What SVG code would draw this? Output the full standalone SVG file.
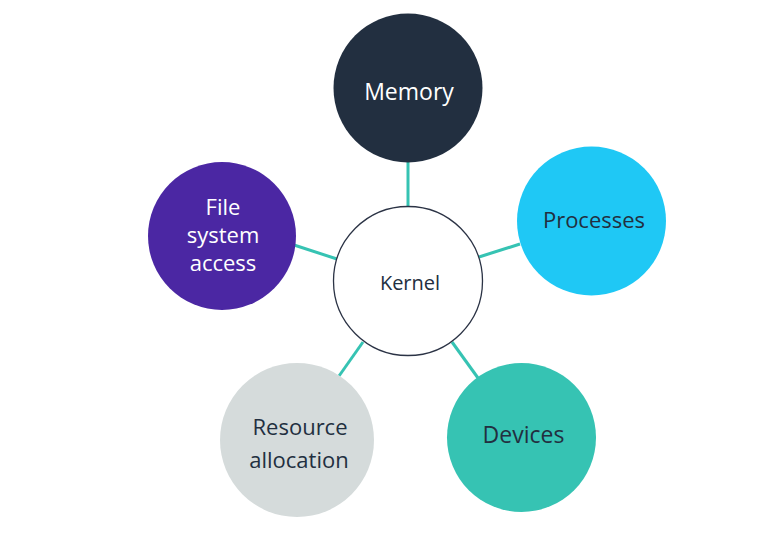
<svg xmlns="http://www.w3.org/2000/svg" width="783" height="536" viewBox="0 0 783 536">
  <style>
    .link { stroke: #36c3b3; stroke-width: 3; fill: none; }
    .lbl { font-family: "Open Sans", "Liberation Sans", sans-serif; font-size: 22px; text-anchor: middle; fill: #222f40; }
    .light { fill: #ffffff; }
  </style>
  <rect width="783" height="536" fill="#ffffff"/>

  <!-- spokes from the kernel to each subsystem -->
  <g id="connectors">
    <line class="link" x1="408" y1="160" x2="408" y2="208"/>
    <line class="link" x1="479" y1="257" x2="520" y2="244"/>
    <line class="link" x1="452" y1="342" x2="478" y2="378"/>
    <line class="link" x1="339" y1="376" x2="363" y2="342"/>
    <line class="link" x1="294" y1="245" x2="337" y2="259"/>
  </g>

  <g id="kernel">
    <circle cx="408" cy="281" r="74.5" fill="#ffffff" stroke="#2b3345" stroke-width="1.3"/>
    <text class="lbl" x="410" y="290" style="font-size:20px">Kernel</text>
  </g>

  <g id="memory">
    <circle cx="408" cy="88" r="74.5" fill="#222f40"/>
    <text class="lbl light" x="409" y="100" style="font-size:23px">Memory</text>
  </g>

  <g id="processes">
    <circle cx="591.5" cy="221" r="74.5" fill="#1fc8f5"/>
    <text class="lbl" x="594" y="228">Processes</text>
  </g>

  <g id="devices">
    <circle cx="521.5" cy="437.5" r="74.5" fill="#36c3b3"/>
    <text class="lbl" x="523.5" y="443" style="font-size:23px">Devices</text>
  </g>

  <g id="resource-allocation">
    <circle cx="297" cy="440" r="77" fill="#d5dbdb"/>
    <text class="lbl" x="300" y="435">Resource</text>
    <text class="lbl" x="299" y="468">allocation</text>
  </g>

  <g id="file-system-access">
    <circle cx="222" cy="236" r="74" fill="#4b27a3"/>
    <text class="lbl light" x="223" y="215">File</text>
    <text class="lbl light" x="223" y="243">system</text>
    <text class="lbl light" x="223" y="271">access</text>
  </g>
</svg>
